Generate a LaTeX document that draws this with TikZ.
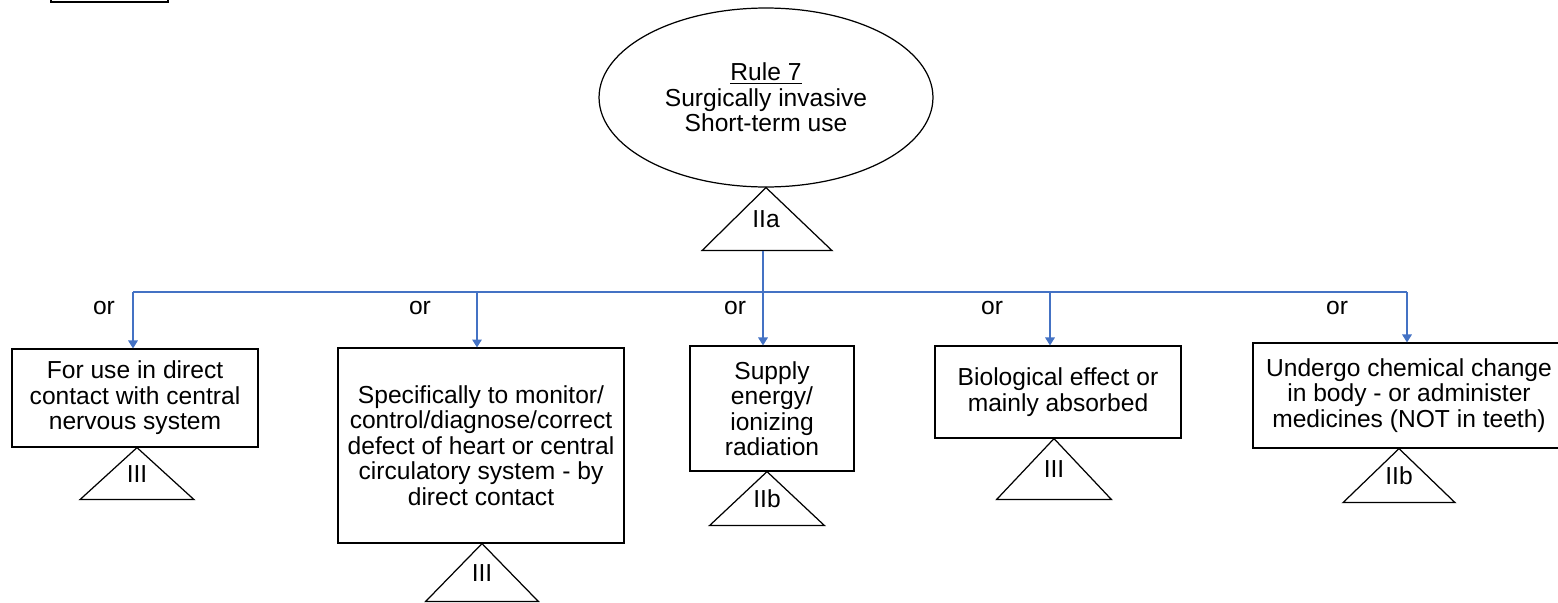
\documentclass[tikz,border=0pt]{standalone}
\usepackage{fontspec}
\setmainfont{Liberation Sans}
\usetikzlibrary{shapes.geometric,arrows.meta}
\definecolor{linkblue}{RGB}{68,114,196}
\begin{document}
\begin{tikzpicture}[x=0.02cm,y=-0.02cm,font=\fontsize{14}{14.5}\selectfont,
	box/.style={draw,line width=0.7pt,inner sep=0pt,align=center},
	link/.style={draw=linkblue,line width=0.6pt},
	tip/.style={-{Triangle[width=5.5pt,length=4.5pt]}}]
	\useasboundingbox (0,0) rectangle (1558,602);
	\draw[line width=1pt] (51,0)--(51,2)--(168,2)--(168,0);
	\node[draw,ellipse,line width=0.7pt,inner sep=0pt,minimum width=6.68cm,minimum height=3.58cm,align=center] (rule) at (766,97.5)
		{\underline{Rule 7}\\Surgically invasive\\Short-term use};
	\draw[line width=0.7pt] (rule.south) -- ++(-64,63) -- ++(130,0) -- cycle;
	\path (rule.south) ++(0,32) node (r0) {IIa};
	\path (rule.south) ++(0,63) coordinate (r0b);
	% boxes
	\node[box,minimum width=4.92cm,minimum height=1.96cm] (b1) at (135,398) {For use in direct\\contact with central\\nervous system};
	\node[box,minimum width=5.72cm,minimum height=3.90cm] (b2) at (481,445.5) {Specifically to monitor/\\control/diagnose/correct\\defect of heart or central\\circulatory system - by\\direct contact};
	\node[box,minimum width=3.28cm,minimum height=2.50cm] (b3) at (772,408.5) {Supply\\energy/\\ionizing\\radiation};
	\node[box,minimum width=4.92cm,minimum height=1.84cm] (b4) at (1058,392) {Biological effect or\\mainly absorbed};
	\node[box,minimum width=6.24cm,minimum height=2.10cm] (b5) at (1409,395.5) {Undergo chemical change\\in body - or administer\\medicines (NOT in teeth)};
	\foreach \b/\dx/\w/\h/\lab in {b1/2/57/52/III, b2/1/56.5/58/III, b3/-5/57.5/54/IIb, b4/-4/57.5/61/III, b5/-10/56/54/IIb}{
		\draw[line width=0.7pt] (\b.south) ++(\dx,0) coordinate (a\b) -- ++(-\w,\h) -- ++(2*\w,0) -- cycle;
		\path (a\b) ++(0,\h/2) node (t\b) {\lab};
	}
	% connectors
	\foreach \n/\x in {1/133,2/477,3/763,4/1050,5/1407}
		\coordinate (o\n) at (\x,292);
	\draw[link] (o3 |- r0b) -- (o3);
	\draw[link] (o1) -- (o5);
	\foreach \n in {1,...,5}
		\draw[link,tip] (o\n) -- (o\n |- b\n.north);
	\foreach \n/\x in {1/104,2/420,3/735,4/992,5/1337}
		\node (or\n) at (\x,308) {or};
\end{tikzpicture}
\end{document}
